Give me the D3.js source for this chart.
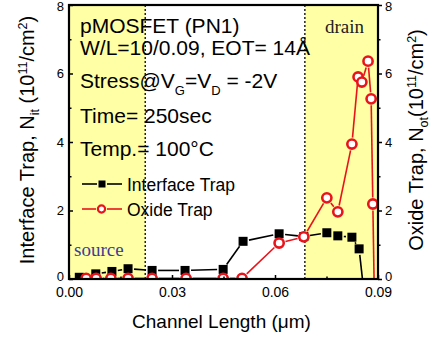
<!DOCTYPE html>
<html><head><meta charset="utf-8">
<script src="https://cdn.jsdelivr.net/npm/d3@7"></script>
<style>
html,body{margin:0;padding:0;background:#fff;}
svg{display:block;font-family:"Liberation Sans",Arial,sans-serif;}
</style></head>
<body><svg id="chart" width="434" height="341"></svg>
<script>
// Channel position (um) and trap densities (10^11 cm^-2)
const interfaceX = [0.003, 0.0078, 0.0125, 0.0172, 0.0242, 0.0338, 0.0449, 0.0507, 0.0612, 0.0684, 0.0751, 0.0783, 0.0824, 0.0845, 0.0858];
const interfaceY = [0.05, 0.15, 0.22, 0.3, 0.25, 0.25, 0.28, 1.1, 1.32, 1.24, 1.35, 1.26, 1.22, 0.88, -0.3];
const oxideX = [0.005, 0.0079, 0.0122, 0.0172, 0.0242, 0.0341, 0.0449, 0.0504, 0.0612, 0.0684, 0.0751, 0.0783, 0.0824, 0.0842, 0.0853, 0.0871, 0.0880, 0.0885, 0.0889];
const oxideY = [0.02, 0.02, 0.02, 0.02, 0.02, 0.02, 0.02, 0.02, 1.05, 1.23, 2.37, 1.96, 3.94, 5.9, 5.75, 6.36, 5.26, 2.19, -0.3];
const sourceEdge = 0.0222;   // end of source region
const drainEdge = 0.0687;    // start of drain region
const xTicks = [0, 0.03, 0.06, 0.09];
const xTickLabels = ["0.00", "0.03", "0.06", "0.09"];
const yTicks = [0, 2, 4, 6, 8];
const infoLines = ["pMOSFET (PN1)", "W/L=10/0.09, EOT= 14Å", "Stress@V_G=V_D = -2V", "Time= 250sec", "Temp.= 100°C"];
const seriesNames = ["Interface Trap", "Oxide Trap"];

const svg = d3.select("#chart");
const L = 69, R = 378, T = 5, B = 279;
const x = d3.scaleLinear().domain([0, 0.09]).range([L, R]);
const y = d3.scaleLinear().domain([0, 8]).range([B, T]);
const yR = d3.scaleLinear().domain([0, 8]).range([B, T]);

const yellow = "#ffffa6", red = "#e8141c";

// shaded source / drain regions
svg.append("rect").attr("x", x(0)).attr("y", T).attr("width", x(sourceEdge) - x(0)).attr("height", B - T).attr("fill", yellow);
svg.append("rect").attr("x", x(drainEdge)).attr("y", T).attr("width", x(0.09) - x(drainEdge)).attr("height", B - T).attr("fill", yellow);
[sourceEdge, drainEdge].forEach(v => {
  svg.append("line").attr("x1", x(v)).attr("x2", x(v)).attr("y1", T).attr("y2", B)
    .attr("stroke", "#000").attr("stroke-width", 1.3).attr("stroke-dasharray", "2,2");
});

// region labels
svg.append("text").attr("x", 74).attr("y", 256).attr("font-family", "Liberation Serif, Times New Roman, serif")
  .attr("font-size", 19).attr("fill", "#3c3c94").text("source");
svg.append("text").attr("x", 325).attr("y", 33).attr("font-family", "Liberation Serif, Times New Roman, serif")
  .attr("font-size", 19).attr("fill", "#222").text("drain");

// info text block
const infoY = [33, 55, 88, 123, 156];
infoLines.forEach((s, i) => {
  const t = svg.append("text").attr("x", 80).attr("y", infoY[i]).attr("font-size", 21).attr("fill", "#000");
  if (s.includes("_")) {
    const parts = s.split(/_(\w)/);
    parts.forEach((p, k) => {
      if (k % 2 === 1) t.append("tspan").attr("font-size", 13).attr("dy", 7).text(p);
      else {
        const ts = t.append("tspan").text(p);
        if (k > 0) ts.attr("dy", -7);
      }
    });
  } else t.text(s);
});

// series lines with small gaps at markers
const plot = svg.append("g").attr("clip-path", "url(#clip)");
svg.append("clipPath").attr("id", "clip").append("rect").attr("x", L).attr("y", T).attr("width", R - L).attr("height", B - T);

function gappedLine(g, xs, ys, color, gap, width) {
  for (let i = 0; i < xs.length - 1; i++) {
    const x1 = x(xs[i]), y1 = y(ys[i]), x2 = x(xs[i + 1]), y2 = y(ys[i + 1]);
    const d = Math.hypot(x2 - x1, y2 - y1);
    if (d <= 2 * gap) continue;
    const ux = (x2 - x1) / d, uy = (y2 - y1) / d;
    g.append("line").attr("x1", x1 + ux * gap).attr("y1", y1 + uy * gap)
      .attr("x2", x2 - ux * gap).attr("y2", y2 - uy * gap)
      .attr("stroke", color).attr("stroke-width", width);
  }
}
gappedLine(plot, interfaceX, interfaceY, "#000", 6, 1.6);
gappedLine(plot, oxideX, oxideY, red, 6.5, 1.6);

plot.selectAll("rect.sq").data(d3.range(interfaceX.length)).enter().append("rect")
  .attr("x", i => x(interfaceX[i]) - 4.5).attr("y", i => y(interfaceY[i]) - 4.5)
  .attr("width", 9).attr("height", 9).attr("fill", "#000");
plot.selectAll("circle.ox").data(d3.range(oxideX.length)).enter().append("circle")
  .attr("cx", i => x(oxideX[i])).attr("cy", i => y(oxideY[i])).attr("r", 4.6)
  .attr("fill", "#fff").attr("stroke", red).attr("stroke-width", 2.6);

// legend
const legY = [184, 209];
svg.append("line").attr("x1", 82).attr("x2", 97).attr("y1", legY[0]).attr("y2", legY[0]).attr("stroke", "#000").attr("stroke-width", 1.6);
svg.append("line").attr("x1", 107).attr("x2", 122).attr("y1", legY[0]).attr("y2", legY[0]).attr("stroke", "#000").attr("stroke-width", 1.6);
svg.append("rect").attr("x", 98.5).attr("y", legY[0] - 3.5).attr("width", 7).attr("height", 7).attr("fill", "#000");
svg.append("line").attr("x1", 82).attr("x2", 96).attr("y1", legY[1]).attr("y2", legY[1]).attr("stroke", red).attr("stroke-width", 1.6);
svg.append("line").attr("x1", 107).attr("x2", 122).attr("y1", legY[1]).attr("y2", legY[1]).attr("stroke", red).attr("stroke-width", 1.6);
svg.append("circle").attr("cx", 101.5).attr("cy", legY[1]).attr("r", 3.6).attr("fill", "#fff").attr("stroke", red).attr("stroke-width", 2.2);
seriesNames.forEach((n, i) => {
  svg.append("text").attr("x", 127).attr("y", legY[i] + 6.5).attr("font-size", 17.5).attr("fill", "#000").text(n);
});

// axes
const xAxis = d3.axisBottom(x).tickValues(xTicks).tickFormat((d, i) => xTickLabels[i]).tickSize(-4).tickPadding(8);
const gx = svg.append("g").attr("class", "xax").attr("transform", `translate(0,${B})`).call(xAxis);
const xMinor = d3.axisBottom(x).tickValues([0.015, 0.045, 0.075]).tickFormat("").tickSize(-2.5);
svg.append("g").attr("transform", `translate(0,${B})`).call(xMinor);

const yAxis = d3.axisLeft(y).tickValues(yTicks).tickSize(-4).tickPadding(5);
const gy = svg.append("g").attr("class", "yax").attr("transform", `translate(${L},0)`).call(yAxis);
svg.append("g").attr("transform", `translate(${L},0)`).call(d3.axisLeft(y).tickValues([1, 3, 5, 7]).tickFormat("").tickSize(-2.5));

const yAxisR = d3.axisRight(yR).tickValues(yTicks).tickSize(4).tickPadding(3);
const gyr = svg.append("g").attr("class", "yax").attr("transform", `translate(${R},0)`).call(yAxisR);
svg.append("g").attr("transform", `translate(${R},0)`).call(d3.axisRight(yR).tickValues([1, 3, 5, 7]).tickFormat("").tickSize(2.5));

svg.selectAll(".domain").remove();
svg.selectAll(".tick line").attr("stroke", "#000").attr("stroke-width", 1.5);
svg.selectAll(".tick text").attr("font-family", "Liberation Sans, Arial, sans-serif").attr("fill", "#000");
gx.selectAll(".tick text").attr("font-size", 14);
svg.selectAll(".yax .tick text").attr("font-size", 13);
// keep the end labels inside the page and clear of the x labels
svg.selectAll(".yax .tick").filter(d => d === 8).select("text").attr("dy", "0.45em");
svg.selectAll(".yax .tick").filter(d => d === 0).select("text").attr("dy", "0.1em");

// frame
svg.append("rect").attr("x", L).attr("y", T).attr("width", R - L).attr("height", B - T)
  .attr("fill", "none").attr("stroke", "#000").attr("stroke-width", 2.2);

// axis titles
svg.append("text").attr("x", (L + R) / 2 - 2).attr("y", 328).attr("text-anchor", "middle").attr("font-size", 19)
  .text("Channel Length (μm)");

function rotatedTitle(cx, cy, main, sub, tail) {
  const t = svg.append("text").attr("transform", `translate(${cx},${cy}) rotate(-90)`)
    .attr("text-anchor", "middle").attr("font-size", 20).attr("fill", "#000");
  t.append("tspan").text(main);
  t.append("tspan").attr("font-size", 12.5).attr("dy", 5).text(sub);
  t.append("tspan").attr("dy", -5).text(tail + "10");
  t.append("tspan").attr("font-size", 12.5).attr("dy", -7).text("11");
  t.append("tspan").attr("dy", 7).text("/cm");
  t.append("tspan").attr("font-size", 12.5).attr("dy", -7).text("2");
  t.append("tspan").attr("dy", 7).text(")");
}
rotatedTitle(34, 140, "Interface Trap, N", "it", " (");
rotatedTitle(423, 140, "Oxide Trap, N", "ot", "(");
</script></body></html>
